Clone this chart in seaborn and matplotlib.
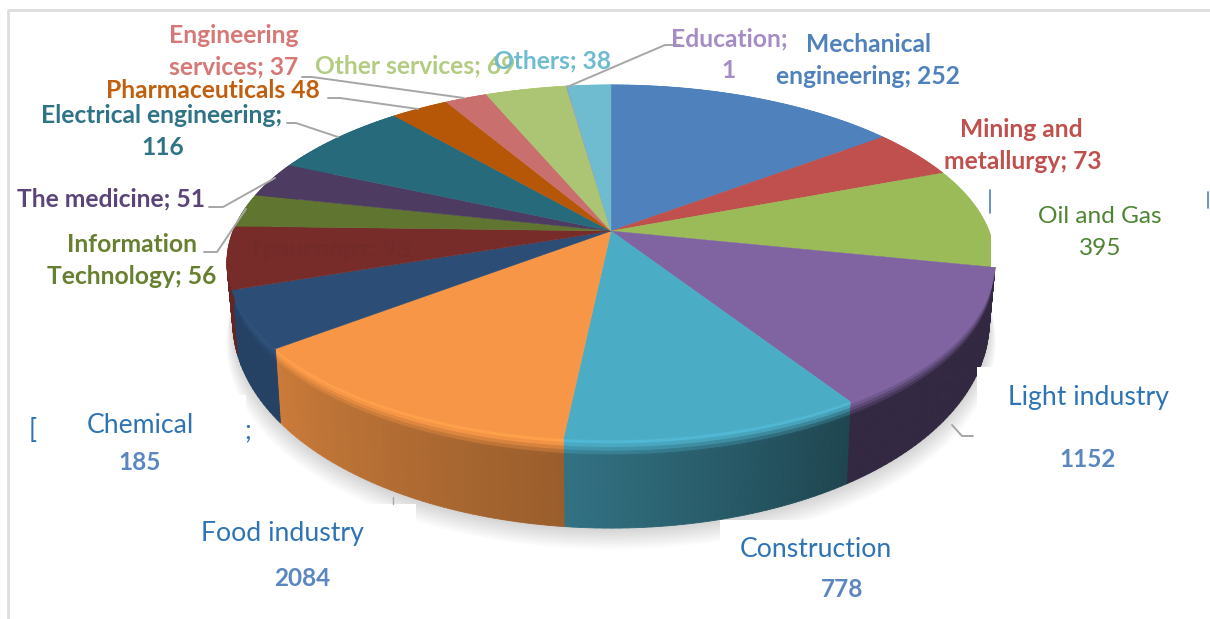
import numpy as np
import matplotlib
matplotlib.use('Agg')
import matplotlib.pyplot as plt
from matplotlib.collections import PolyCollection
import seaborn as sns

sns.set_theme(style='white')
plt.rcParams['font.family'] = ['Lato', 'DejaVu Sans']

# slice names, clockwise from the top, and the numbers printed on the labels
sectors = ['Mechanical engineering', 'Mining and metallurgy', 'Oil and Gas', 'Light industry',
           'Construction', 'Food industry', 'Chemical', 'Транспорт', 'Information Technology',
           'The medicine', 'Electrical engineering', 'Pharmaceuticals', 'Engineering services',
           'Other services', 'Education', 'Others']
printed_values = [252, 73, 395, 1152, 778, 2084, 185, 93, 56, 51, 116, 48, 37, 69, 1, 38]
# the drawn slices do not follow the printed numbers, these are the shares seen in the picture
drawn_shares = [52.8, 16.2, 32.8, 45.7, 38.5, 46.4, 18.8, 20.5, 10.9, 11.7, 25.2, 10.4, 7.6, 14.6, 0.1, 7.9]
face_colors = ['#4F81BD', '#C0504D', '#9BBB59', '#8064A2', '#4BACC6', '#F79646', '#2C4D75', '#772C2A',
               '#5F7530', '#4D3B62', '#276A7C', '#B65708', '#C96F6E', '#ACC574', '#A58CC4', '#6FBBD0']
palette = sns.color_palette(face_colors)

# how the flat disc is seen: apex pixel, sizes and perspective
CX, CY = 611, 231
RX, RY, PERSP = 378, 172, 0.1775


def top_xy(theta, r=1.0):
    u = r * np.sin(theta)
    v = r * np.cos(theta)
    w = 1 + PERSP * v
    return CX + RX * u / w, CY - RY * v / w


def bottom_xy(theta):
    x, y = top_xy(theta)
    return CX + (x - CX) * 0.985, y + 52 - 36 * np.cos(theta)


def wall_shade(i, t):
    # t runs clockwise, so right to left along the front: darker on the right
    if sectors[i] == 'Food industry':
        return 0.62 + 0.20 * t
    if sectors[i] == 'Construction':
        return 0.40 + 0.26 * t
    if sectors[i] == 'Light industry':
        return 0.40
    return 0.85


fig, ax = plt.subplots(figsize=(12.1, 6.19), dpi=100)
fig.subplots_adjust(0, 0, 1, 1)
ax.set_xlim(0, 1210)
ax.set_ylim(619, 0)
ax.axis('off')

edges = np.deg2rad(np.concatenate([[0], np.cumsum(drawn_shares)]) * 360 / np.sum(drawn_shares))

# soft shadow under the pie
ring = np.linspace(0, 2 * np.pi, 240)
for grow in np.linspace(26, 0, 14):
    sx, sy = bottom_xy(ring)
    ax.fill(CX + (sx - CX) * (1 + grow / 1500), sy + 2 + grow * 0.75, color='black', alpha=0.011, lw=0)

# side wall, only the front half shows
for i, col in enumerate(palette):
    a, b = edges[i], edges[i + 1]
    n = max(int(np.degrees(b - a)), 2)
    th = np.linspace(a, b, n + 1)
    h = np.linspace(0, 1, 25)
    xt, yt = top_xy(th)
    xb, yb = bottom_xy(th)
    X = np.outer(1 - h, xt) + np.outer(h, xb)
    Y = np.outer(1 - h, yt) + np.outer(h, yb)
    polys, cols = [], []
    for k in range(len(h) - 1):
        hh = (h[k] + h[k + 1]) / 2
        for m in range(n):
            s = wall_shade(i, (m + 0.5) / n)
            # bevel at the top of the wall
            blend = np.clip((hh - 0.03) / 0.16, 0, 1)
            lift = 1.07 if s > 0.5 or sectors[i] == 'Construction' else 1.0
            glow = lift * (1 - blend) + s * blend
            cols.append(np.clip(np.array(col) * glow, 0, 1))
            polys.append([(X[k, m], Y[k, m]), (X[k, m + 1], Y[k, m + 1]),
                          (X[k + 1, m + 1], Y[k + 1, m + 1]), (X[k + 1, m], Y[k + 1, m])])
    ax.add_collection(PolyCollection(polys, facecolors=cols, edgecolors=cols, linewidths=0.6, zorder=2))

# top face
for i, col in enumerate(palette):
    th = np.linspace(edges[i], edges[i + 1], 60)
    xs, ys = top_xy(th)
    ax.fill(np.r_[CX, xs], np.r_[CY, ys], color=col, lw=0.3, zorder=3)

# leader lines
leaders = [
    ([680, 665, 567], [45, 45, 87]),
    ([302, 312, 464], [77, 77, 98]),
    ([328, 340, 418], [98, 98, 109]),
    ([287, 296, 338], [123, 123, 137]),
    ([209, 223, 275], [207, 207, 178]),
    ([204, 217, 246], [252, 252, 209]),
]
for lx, ly in leaders:
    ax.plot(lx, ly, color='#A6A6A6', lw=1.4, zorder=4)

# white boxes pasted over the old labels
boxes = [(36, 395, 210, 48), (190, 504, 226, 60), (720, 520, 190, 50), (977, 367, 205, 72), (991, 190, 215, 77)]
for x, y, w, h in boxes:
    ax.add_patch(plt.Rectangle((x, y), w, h, color='white', lw=0, zorder=5))

ax.plot([393, 393], [497, 504], color='#A6A6A6', lw=1, zorder=6)
ax.plot([952, 962, 973], [425, 436, 436], color='#A6A6A6', lw=1.4, zorder=6)
ax.plot([990, 990], [190, 213], color='#4F81BD', lw=1.2, zorder=6)
ax.plot([1208, 1208], [192, 208], color='#4F81BD', lw=1.2, zorder=6)

# frame
ax.plot([1210, 8, 8], [10, 10, 619], color='#DEDEDE', lw=2, zorder=1)


def label(x, y, s, color, bold=True, size=17.7):
    ax.text(x, y + 1.5, s, color=color, fontsize=size, fontweight='bold' if bold else 'normal',
            ha='center', va='center', zorder=7)


label(330, 248, f'{sectors[7]}; {printed_values[7]}', '#722B29')
label(234, 34, 'Engineering', '#D57876')
label(234, 65, f'services; {printed_values[12]}', '#D57876')
label(415, 64, f'Other services; {printed_values[13]}', '#B3CC82')
label(553, 59, f'Others; {printed_values[15]}', '#6FBBD0')
label(213, 89, f'Pharmaceuticals {printed_values[11]}', '#C0600F')
label(162, 114, 'Electrical engineering;', '#2F7386')
label(163, 146, str(printed_values[10]), '#2F7386')
label(111, 197, f'The medicine; {printed_values[9]}', '#5A4478')
label(132, 243, 'Information', '#66802F')
label(132, 275, f'Technology; {printed_values[8]}', '#66802F')
label(729, 37, 'Education;', '#A58CC4')
label(729, 69, str(printed_values[14]), '#A58CC4')
label(868, 43, 'Mechanical', '#4F81BD')
label(868, 75, f'engineering; {printed_values[0]}', '#4F81BD')
label(1021, 128, 'Mining and', '#C0504D')
label(1023, 160, f'metallurgy; {printed_values[1]}', '#C0504D')
label(1100, 215, 'Oil and Gas', '#4E8533', bold=False, size=17.6)
label(1100, 247, str(printed_values[2]), '#4E8533', bold=False, size=17.6)
label(1088, 396, 'Light industry', '#2E74B5', bold=False, size=19.2)
label(1088, 458, str(printed_values[3]), '#5B86C0', size=17.5)
label(816, 548, 'Construction', '#2E74B5', bold=False, size=19.2)
label(842, 588, str(printed_values[4]), '#5B86C0', size=17.5)
label(282, 532, 'Food industry', '#2E74B5', bold=False, size=19.2)
label(302, 577, str(printed_values[5]), '#5B86C0', size=17.5)
label(140, 424, 'Chemical', '#2E74B5', bold=False, size=19.2)
label(140, 461, str(printed_values[6]), '#5B86C0', size=17.5)
label(33, 429, '[', '#2E74B5', bold=False, size=19.2)
label(248, 429, ';', '#2E74B5', bold=False, size=19.2)

fig.savefig('out.png', dpi=100)
